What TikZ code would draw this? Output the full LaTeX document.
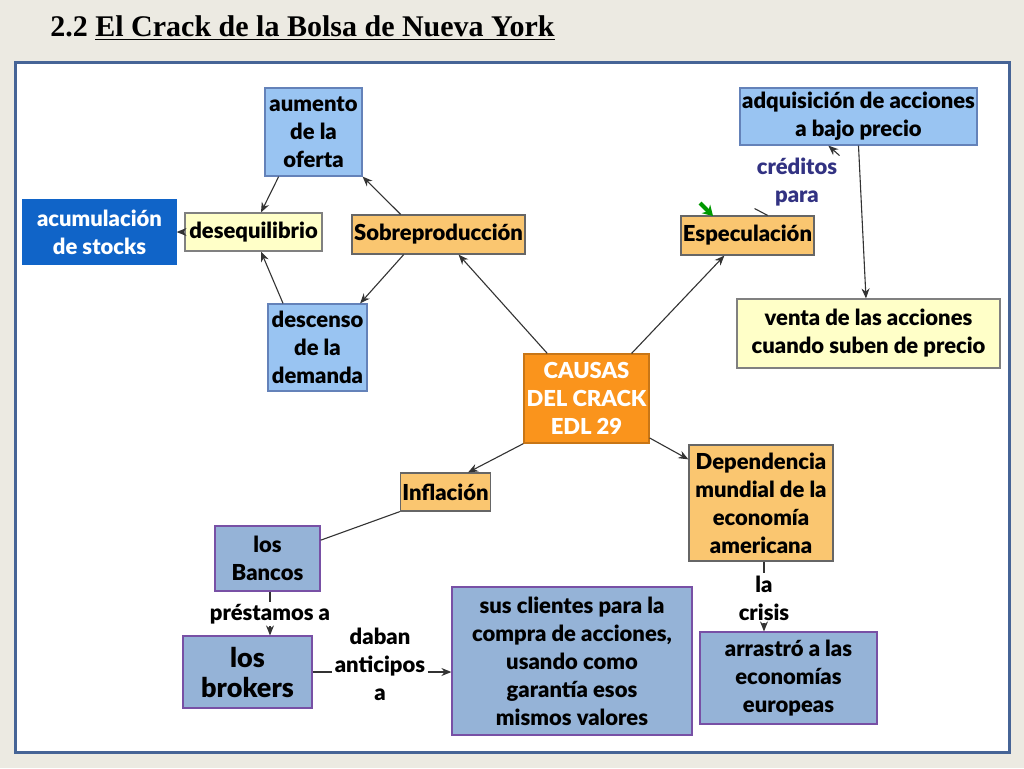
\documentclass[tikz,border=0pt]{standalone}
\usepackage{fontspec}
\setmainfont{Lato}[BoldFont={Lato Black}]
\newfontfamily\titlefont{Liberation Serif}
\usetikzlibrary{arrows.meta}
\definecolor{pagebg}{RGB}{236,234,226}
\definecolor{panelblue}{RGB}{70,100,150}
\definecolor{lblue}{RGB}{153,196,242}
\definecolor{lblueline}{RGB}{100,130,185}
\definecolor{dblue}{RGB}{16,100,200}
\definecolor{lyellow}{RGB}{255,255,200}
\definecolor{lorange}{RGB}{250,198,112}
\definecolor{orangebox}{RGB}{250,148,28}
\definecolor{steel}{RGB}{149,179,215}
\definecolor{steelline}{RGB}{120,80,165}
\definecolor{linkblue}{RGB}{50,50,130}
\begin{document}
\begin{tikzpicture}[x=0.5pt, y=-0.5pt,
  every node/.style={font=\bfseries\fontsize{11}{14}\selectfont, align=center, inner sep=1pt},
  box/.style={draw=#1, line width=0.6pt, minimum width=10pt},
  bluebox/.style={box=lblueline, fill=lblue},
  darkbox/.style={box=dblue, fill=dblue, text=white},
  yellowbox/.style={box=gray, fill=lyellow},
  orbox/.style={box=gray!80!black, fill=lorange},
  causebox/.style={box=orangebox!80!black, fill=orangebox, text=white},
  steelbox/.style={box=steelline, fill=steel},
  link/.style={draw=black!80, line width=0.55pt},
  arr/.style={link, -{Stealth[length=5pt, width=4pt]}}]
  % page and panel
  \fill[pagebg] (0,0) rectangle (1024,768);
  \draw[panelblue, line width=1.5pt, fill=white] (15,62) rectangle (1009,752);
  \node (title) [anchor=west, font=\titlefont\bfseries\fontsize{15}{18}\selectfont] at (48,28)
    {2.2 \underline{El Crack de la Bolsa de Nueva York}};

  % upper left: Sobreproduccion
  \node (aumento) [bluebox, minimum width=48.5pt, minimum height=44pt] at (313.5,132) {aumento\\de la\\oferta};
  \node (acum) [darkbox, minimum width=76.5pt, minimum height=32pt] at (99.5,232) {acumulación\\de stocks};
  \node (deseq) [yellowbox, minimum width=68.5pt, minimum height=19pt] at (253.5,232) {desequilibrio};
  \node (sobre) [orbox, minimum width=83.5pt, minimum height=19.5pt] at (438.5,234.5) {Sobreproducción};
  \node (descenso) [bluebox, minimum width=49.5pt, minimum height=43.5pt] at (317.5,347.5) {descenso\\de la\\demanda};

  % centre
  \node (causas) [causebox, minimum width=62.5pt, minimum height=44.5pt] at (586.5,398.5) {CAUSAS\\DEL CRACK\\EDL 29};

  % upper right: Especulacion
  \node (espec) [orbox, minimum width=64.5pt, minimum height=19.5pt] at (747.5,235.5) {Especulación};
  \node (adq) [bluebox, minimum width=118.5pt, minimum height=28.5pt] at (858.5,116.5) {adquisición de acciones\\a bajo precio};
  \node (venta) [yellowbox, minimum width=131.5pt, minimum height=34.5pt] at (868.5,333.5) {venta de las acciones\\cuando suben de precio};
  \node (cred) [text=linkblue] at (797,182) {créditos\\para};
  \draw[green!60!black, line width=2pt, -{Stealth[length=5pt, width=6pt]}] (700,203) -- (713,216);

  % lower half
  \node (infl) [orbox, minimum width=44.5pt, minimum height=19pt] at (445.5,492) {Inflación};
  \node (depend) [orbox, minimum width=72pt, minimum height=58pt] at (761,503) {Dependencia\\mundial de la\\economía\\americana};
  \node (bancos) [steelbox, minimum width=52.5pt, minimum height=32.5pt] at (267.5,558.5) {los\\Bancos};
  \node (brokers) [steelbox, minimum width=64.5pt, minimum height=36pt, font=\bfseries\fontsize{13.5}{15}\selectfont] at (247.5,672) {los\\brokers};
  \node (clientes) [steelbox, minimum width=120pt, minimum height=74pt] at (572,661) {sus clientes para la\\compra de acciones,\\usando como\\garantía esos\\mismos valores};
  \node (arrastro) [steelbox, minimum width=88.5pt, minimum height=46pt] at (788.5,678) {arrastró a las\\economías\\europeas};
  \node (prest) at (270,614) {préstamos a};
  \node (daban) at (380,664) {daban\\anticipos\\a};
  \node (crisis) at (764,598) {la\\crisis};

  % connectors
  \draw[arr] (sobre.152) -- (aumento.south east);
  \draw[arr] (aumento.232) -- ([xshift=3.75pt]deseq.north);
  \draw[arr] (deseq) -- (acum);
  \draw[arr] (sobre.210) -- (descenso.46);
  \draw[arr] (descenso.128) -- ([xshift=3.75pt]deseq.south);
  \draw[arr] (causas.131) -- (sobre.-45);
  \draw[arr] (causas.45) -- (espec.-139);
  \draw[link] (espec.45) -- (cred.south west);
  \draw[arr] (cred.north east) -- (adq.-136);
  \draw[arr] (adq.south) -- ([xshift=-1.25pt]venta.north);
  \draw[arr] (causas.south west) -- (infl.41);
  \draw[arr] (causas.-32) -- (depend.149);
  \draw[link] (infl.south west) -- (bancos.19);
  \draw[link] (bancos.south -| prest.north) -- (prest.north);
  \draw[arr] (prest.south) -- (brokers.north -| prest.south);
  \draw[link] (brokers.east) -- (daban.west |- brokers.east);
  \draw[arr] (daban.east |- brokers.east) -- (clientes.west |- brokers.east);
  \draw[link] (depend.south -| crisis.north) -- (crisis.north);
  \draw[arr] (crisis.south) -- (arrastro.north -| crisis.south);
\end{tikzpicture}
\end{document}
